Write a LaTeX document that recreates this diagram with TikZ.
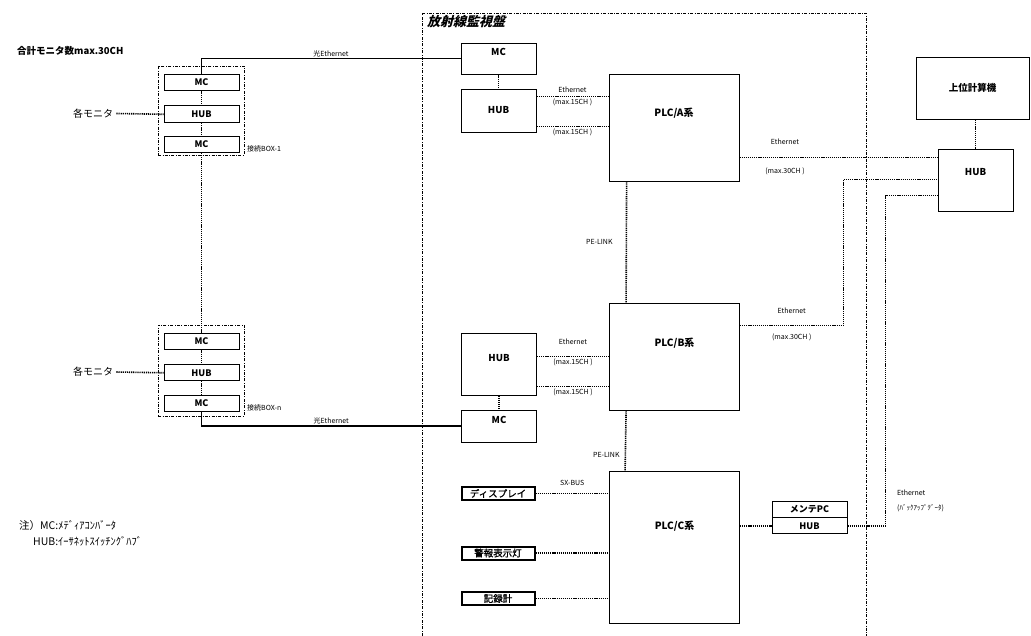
\documentclass[tikz,border=0pt]{standalone}
\usepackage{fontspec}
\setmainfont{Noto Sans CJK JP}
\newfontfamily\titlefont[FakeSlant=0.25,BoldFeatures={FakeSlant=0.25}]{Noto Sans CJK JP}
\newfontfamily\devfont[FakeBold=1.2]{Noto Sans CJK JP}
\usetikzlibrary{calc,positioning}
\tikzset{
	unit/.style={draw, thick, minimum width=75pt, minimum height=16pt, inner sep=0pt, font=\bfseries\fontsize{9}{10}\selectfont},
	panelbox/.style={draw, thick, minimum width=75pt, inner sep=0pt, font=\bfseries\fontsize{9.5}{11}\selectfont},
	plc/.style={draw, thick, minimum width=130pt, inner sep=0pt, text height=8pt, text depth=#1, font=\bfseries\fontsize{10}{12}\selectfont},
	device/.style={draw, line width=2pt, minimum width=73pt, minimum height=13pt, inner sep=0pt, font=\devfont\fontsize{9.5}{10}\selectfont},
	frame/.style={draw, line width=0.5pt, dash pattern=on 3pt off 1.5pt on 0.7pt off 1.5pt},
	link/.style={line width=1.6pt, dash pattern=on 1.2pt off 0.9pt},
	fiber/.style={line width=1.5pt},
	tag/.style={font=\fontsize{7}{8}\selectfont, inner sep=1pt},
	caption/.style={anchor=west, inner sep=0pt}
}

\begin{document}
\begin{tikzpicture}[x=1pt, y=-1pt]
	\useasboundingbox (0,0) rectangle (1031,636);
	% panel
	\draw[frame] (422,636) -- (422,13) -- (866,13) -- (866,636);
	\node[caption, font=\titlefont\bfseries\fontsize{13}{14}\selectfont] (title) at (427,22) {放射線監視盤};
	\node[caption, font=\bfseries\fontsize{9.5}{11}\selectfont] (total) at (17,51) {合計モニタ数max.30CH};

	% connection box 1
	\node[frame, minimum width=86pt, minimum height=89pt] (box1) at (201,110.5) {};
	\node[unit] (mc1) at (201.5,82) {MC};
	\node[unit, minimum height=17pt, below=15pt of mc1] (hub1) {HUB};
	\node[unit, below=13pt of hub1] (mc2) {MC};
	\node[caption, font=\fontsize{10}{11}\selectfont, inner sep=3pt] (mon1) at (70,113.5) {各モニタ};
	\node[caption, font=\fontsize{7}{8}\selectfont] (lbl1) at (247,149) {接続BOX-1};

	% connection box n
	\node[frame, minimum width=86pt, minimum height=91pt] (boxn) at (201,370.5) {};
	\node[unit] (mcn1) at (201.5,341) {MC};
	\node[unit, below=15pt of mcn1] (hubn) {HUB};
	\node[unit, below=14pt of hubn] (mcn2) {MC};
	\node[caption, font=\fontsize{10}{11}\selectfont, inner sep=3pt] (monn) at (70,372) {各モニタ};
	\node[caption, font=\fontsize{7}{8}\selectfont] (lbln) at (247,408) {接続BOX-n};

	% monitoring panel
	\node[panelbox, minimum height=31pt, text height=8pt, text depth=14pt] (mcA) at (498.5,58.5) {MC};
	\node[panelbox, minimum height=43pt] (hubA) at (498.5,110.5) {HUB};
	\node[plc=29pt, minimum height=107pt] (plcA) at (674,127.5) {PLC/A系};
	\node[panelbox, minimum height=62pt, text height=8pt, text depth=12pt] (hubB) at (499,364) {HUB};
	\node[panelbox, minimum height=32pt, text height=8pt, text depth=14pt] (mcB) at (499,426) {MC};
	\node[plc=29pt, minimum height=107pt] (plcB) at (674.5,356.5) {PLC/B系};
	\node[plc=44pt, minimum height=152pt] (plcC) at (674.5,547) {PLC/C系};
	\node[device] (disp) at (498,493.5) {ディスプレイ};
	\node[device] (alarm) at (498,553) {警報表示灯};
	\node[device] (rec) at (498,598.5) {記録計};
	\node[unit] (mpc) at (809.5,509) {メンテPC};
	\node[unit, below=0pt of mpc] (mhub) {HUB};

	% host side
	\node[panelbox, minimum width=113pt, minimum height=62pt] (host) at (972.5,88) {上位計算機};
	\node[panelbox, minimum height=62pt, text height=8pt, text depth=16pt] (hubR) at (975.5,180) {HUB};
	\node[tag, anchor=west] (bkup) at (896,493) {Ethernet};
	\node[tag, anchor=west] (bkupdata) at (896,508) {(ﾊﾞｯｸｱｯﾌﾟﾃﾞｰﾀ)};

	% optical links
	\draw[fiber] (mc1.north) |- node[tag, above, pos=0.75] {光Ethernet} (mcA.west);
	\draw[fiber] (mcn2.south) |- node[tag, above, pos=0.75] {光Ethernet} (mcB.west);

	% box links
	\draw[link] (mc1) -- (hub1);
	\draw[link] (hub1) -- (mc2);
	\draw[link] (mc2) -- (mcn1);
	\draw[link] (mcn1) -- (hubn);
	\draw[link] (hubn) -- (mcn2);
	\draw[link] (mon1.east) -- (hub1.west);
	\draw[link] (monn.east) -- (hubn.west);

	% panel links
	\draw[link] (mcA) -- (hubA);
	\draw[link] (hubB) -- (mcB);
	\draw[link] ($(hubA.north east)+(0,8)$) -- node[tag, above=2pt] {Ethernet} node[tag, below=0pt] {(max.15CH )} ($(plcA.north west)+(0,23)$);
	\draw[link] ($(hubA.north east)+(0,38)$) -- node[tag, below=0pt] {(max.15CH )} ($(plcA.north west)+(0,53)$);
	\draw[link] ($(hubB.north east)+(0,24)$) -- node[tag, above=10pt] {Ethernet} node[tag, below=0pt] {(max.15CH )} ($(plcB.north west)+(0,54)$);
	\draw[link] ($(hubB.north east)+(0,54)$) -- node[tag, below=0pt] {(max.15CH )} ($(plcB.north west)+(0,84)$);
	\draw[link] ($(plcA.south west)+(18,0)$) -- node[tag, left=12pt] {PE-LINK} ($(plcB.north west)+(17,0)$);
	\draw[link] ($(plcB.south west)+(17,0)$) -- node[tag, left=4pt, pos=0.74] {PE-LINK} ($(plcC.north west)+(16,0)$);
	\draw[link] (disp.east) -- node[tag, above=6pt] {SX-BUS} (disp.east -| plcC.west);
	\draw[link] (alarm.east) -- (alarm.east -| plcC.west);
	\draw[link] (rec.east) -- (rec.east -| plcC.west);
	\draw[link] (plcC.east |- mhub.west) -- (mhub.west);

	% links to host
	\draw[link] (hubR.north) -- (hubR.north |- host.south);
	\draw[link] ($(plcA.north east)+(0,84)$) -- node[tag, above=11pt, pos=0.23] {Ethernet} node[tag, below=8pt, pos=0.23] {(max.30CH )} ($(hubR.north west)+(0,9)$);
	\draw[link] ($(plcB.north east)+(0,23)$) -| node[tag, above=10pt, pos=0.25] {Ethernet} node[tag, below=6pt, pos=0.25] {(max.30CH )} ($(hubR.north west)+(-94,31)$) -- ($(hubR.north west)+(0,31)$);
	\draw[link] (mhub.east) -| ($(hubR.north west)+(-52,47)$) -- ($(hubR.north west)+(0,47)$);

	% note
	\node[caption, align=left, font=\fontsize{10.5}{16}\selectfont] (note) at (19,533) {注）MC:ﾒﾃﾞｨｱｺﾝﾊﾞｰﾀ\\\hspace*{14pt}HUB:ｲｰｻﾈｯﾄｽｲｯﾁﾝｸﾞﾊﾌﾞ};
\end{tikzpicture}
\end{document}
